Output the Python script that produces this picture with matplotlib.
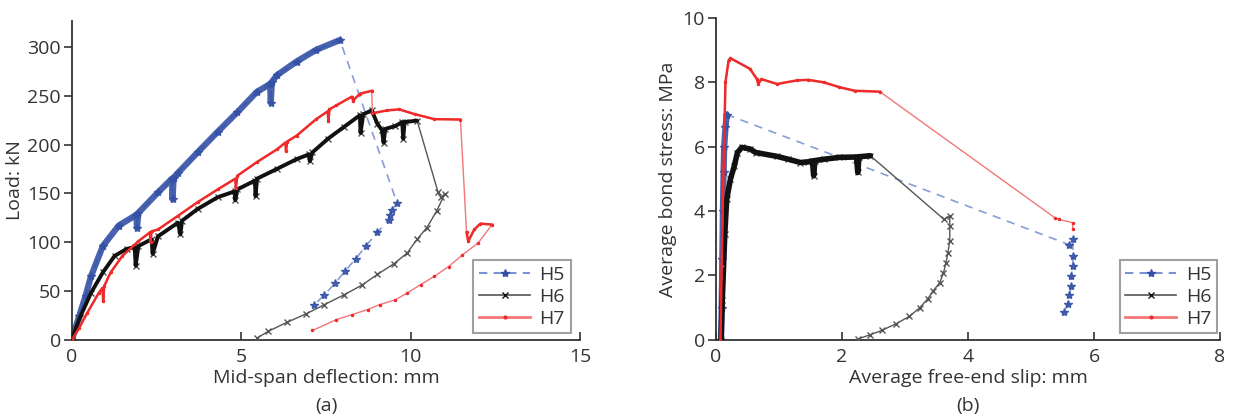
import matplotlib
matplotlib.use('Agg')
import matplotlib.pyplot as plt
from matplotlib.lines import Line2D

plt.rcParams['font.family'] = ['Open Sans', 'DejaVu Sans']
plt.rcParams['text.color'] = '#333333'
plt.rcParams['axes.labelcolor'] = '#333333'
plt.rcParams['xtick.color'] = '#333333'
plt.rcParams['ytick.color'] = '#333333'

# ---------------- (a) load vs mid-span deflection ----------------
# H5 loading branch (dense) and post-peak branch
h5a_load_x = [0.0, 0.1, 0.21, 0.4, 0.56, 0.91, 1.38, 1.9, 1.92, 1.96, 2.54, 2.95, 2.97, 3.0, 3.13,
              3.71, 4.3, 4.88, 5.46, 5.85, 5.87, 5.9, 6.05, 6.63, 7.21, 7.91]
h5a_load_y = [0.0, 12, 24, 45, 65, 96, 117, 128, 115, 130, 151, 165, 144, 166, 171,
              192, 213, 233, 254, 262, 243, 264, 271, 285, 297, 307]
h5a_post_x = [9.6, 9.45, 9.4, 9.35, 9.02, 8.67, 8.38, 8.05, 7.77, 7.45, 7.16]
h5a_post_y = [140, 133, 128, 123, 110, 96, 83, 70, 58, 46, 36]

h6a_load_x = [0.0, 0.21, 0.56, 0.91, 1.26, 1.61, 1.85, 1.88, 1.96, 2.35, 2.38, 2.54, 3.13, 3.2, 3.25,
              3.71, 4.3, 4.8, 4.82, 4.88, 5.4, 5.42, 5.46, 6.05, 6.63, 7.0, 7.02, 7.1, 7.56,
              8.03, 8.5, 8.52, 8.6, 8.85, 9.02, 9.15, 9.2, 9.25, 9.55, 9.75, 9.78, 9.82, 10.19]
h6a_load_y = [0.0, 21, 48, 69, 86, 93, 95, 76, 96, 103, 88, 106, 120, 108, 122,
              134, 146, 152, 143, 154, 163, 147, 165, 175, 185, 190, 183, 192, 206,
              218, 230, 212, 231, 235, 221, 215, 202, 216, 219, 223, 206, 223, 224.5]
h6a_post_x = [10.81, 10.9, 11.0, 10.77, 10.48, 10.19, 9.9, 9.51, 9.02, 8.56, 8.03, 7.45,
              6.92, 6.34, 5.79, 5.46]
h6a_post_y = [151, 146, 149, 132, 115, 103, 89, 78, 67, 56, 46, 36,
              26.7, 17.8, 8.6, 1.7]

h7a_load_x = [0.0, 0.21, 0.44, 0.79, 0.9, 0.92, 0.95, 1.14, 1.49, 1.96, 2.3, 2.32, 2.35, 2.54, 3.13,
              3.71, 4.3, 4.82, 4.84, 4.88, 5.46, 6.05, 6.3, 6.32, 6.35, 6.63, 7.21, 7.55, 7.57,
              7.6, 7.8, 8.26, 8.3, 8.5, 8.85, 8.87, 9.31, 9.66, 10.13, 10.7, 11.47, 11.65,
              11.7, 11.88, 12.06, 12.4]
h7a_load_y = [0.0, 12, 27, 48, 53, 40, 55, 69, 86, 101, 110, 100, 111, 113, 127,
              141, 154, 165, 155, 168, 182, 195, 202, 193, 203, 209, 226, 234, 224,
              236, 240, 249, 245, 252, 255, 232, 235, 236, 231, 226, 225.6, 110,
              101, 113, 119, 118]
h7a_post_x = [12.0, 11.53, 11.12, 10.7, 10.3, 9.9, 9.55, 9.08, 8.73, 8.26, 7.8, 7.1]
h7a_post_y = [99.4, 87, 75, 65, 56.6, 48, 41, 36, 31, 25.7, 20.6, 9.6]

# ---------------- (b) bond stress vs free-end slip ----------------
h5b_load_x = [0.08, 0.09, 0.1, 0.11, 0.12, 0.13, 0.15, 0.17]
h5b_load_y = [0.0, 1.0, 2.5, 4.0, 5.2, 6.0, 6.6, 7.0]
h5b_post_x = [5.6, 5.66, 5.67, 5.66, 5.64, 5.64, 5.61, 5.58, 5.53]
h5b_post_y = [2.96, 3.12, 2.6, 2.29, 1.98, 1.66, 1.4, 1.12, 0.86]

h6b_load_x = [0.08, 0.1, 0.14, 0.17, 0.23, 0.29, 0.34, 0.41, 0.54, 0.63, 0.97, 1.15, 1.34,
              1.46, 1.53, 1.55, 1.57, 1.71, 1.96, 2.23, 2.25, 2.27, 2.45]
h6b_load_y = [0.0, 1.25, 3.3, 4.37, 5.0, 5.4, 5.82, 5.98, 5.93, 5.82, 5.7, 5.61, 5.51,
              5.53, 5.56, 5.1, 5.57, 5.61, 5.67, 5.68, 5.2, 5.69, 5.72]
h6b_post_x = [3.62, 3.71, 3.71, 3.71, 3.68, 3.65, 3.61, 3.55, 3.45, 3.36, 3.23, 3.07, 2.86,
              2.63, 2.45, 2.26]
h6b_post_y = [3.74, 3.85, 3.53, 3.07, 2.7, 2.39, 2.08, 1.77, 1.53, 1.27, 0.99, 0.73, 0.5,
              0.29, 0.16, 0.03]

h7b_load_x = [0.07, 0.09, 0.12, 0.15, 0.2, 0.23, 0.54, 0.65, 0.67, 0.72, 0.97, 1.28, 1.46,
              1.71, 1.96, 2.2, 2.6]
h7b_load_y = [0.0, 2.3, 5.4, 8.0, 8.68, 8.75, 8.42, 8.1, 7.95, 8.1, 7.95, 8.06, 8.08,
              8.0, 7.85, 7.74, 7.71]
h7b_post_x = [5.38, 5.44, 5.66, 5.66]
h7b_post_y = [3.79, 3.74, 3.64, 3.45]

blue = '#3451a6'
blue_light = '#7b92d4'
black = '#111111'
gray = '#555555'
red = '#ee2a2a'
red_light = '#f27777'


def thick(ax, x, y, breaks, **kw):
    # draw the dense part as thick pieces, leaving the sudden drops thin
    start = 0
    for b in breaks + [len(x)]:
        ax.plot(x[start:b], y[start:b], **kw)
        start = b


def draw(ax, h5, h6, h7, red_breaks, b6_lw):
    (x5, y5, px5, py5), (x6, y6, px6, py6), (x7, y7, px7, py7) = h5, h6, h7
    ax.plot(x5 + px5, y5 + py5, color=blue_light, lw=1.2, ls=(0, (5, 4)), marker='*',
            markersize=6, markerfacecolor=blue, markeredgecolor=blue, alpha=0.9, zorder=2)
    ax.plot(x6 + px6, y6 + py6, color=gray, lw=1.0, marker='x', markersize=4.5,
            markeredgecolor=gray, zorder=3)
    ax.plot(x7 + px7, y7 + py7, color=red_light, lw=1.0, marker='.', markersize=3,
            markerfacecolor=red, markeredgecolor=red, zorder=4)
    ax.plot(x5, y5, color=blue, lw=4.5, alpha=0.9, solid_capstyle='round', zorder=2)
    ax.plot(x6, y6, color=black, lw=b6_lw, solid_capstyle='round', zorder=3)
    thick(ax, x7, y7, red_breaks, color=red, lw=1.8, zorder=4)


fig = plt.figure(figsize=(12.33, 4.19), dpi=100)
ax1 = fig.add_axes([0.0584, 0.189, 0.412, 0.762])
ax2 = fig.add_axes([0.5807, 0.189, 0.4088, 0.768])

draw(ax1, (h5a_load_x, h5a_load_y, h5a_post_x, h5a_post_y),
     (h6a_load_x, h6a_load_y, h6a_post_x, h6a_post_y),
     (h7a_load_x, h7a_load_y, h7a_post_x, h7a_post_y), [35, 41], 2.8)
draw(ax2, (h5b_load_x, h5b_load_y, h5b_post_x, h5b_post_y),
     (h6b_load_x, h6b_load_y, h6b_post_x, h6b_post_y),
     (h7b_load_x, h7b_load_y, h7b_post_x, h7b_post_y), [], 4.0)

ax1.set_xlim(0, 15)
ax1.set_ylim(0, 327)
ax1.set_xticks([0, 5, 10, 15])
ax1.set_yticks([0, 50, 100, 150, 200, 250, 300])
ax1.set_xlabel('Mid-span deflection: mm', fontsize=14, labelpad=2)
ax1.set_ylabel('Load: kN', fontsize=14, labelpad=2)

ax2.set_xlim(0, 8)
ax2.set_ylim(0, 10)
ax2.set_xticks([0, 2, 4, 6, 8])
ax2.set_yticks([0, 2, 4, 6, 8, 10])
ax2.set_xlabel('Average free-end slip: mm', fontsize=14, labelpad=2)
ax2.set_ylabel('Average bond stress: MPa', fontsize=14, labelpad=4)

handles = [Line2D([], [], color=blue_light, lw=1.5, ls=(0, (4, 3)), marker='*', markersize=6,
                  markerfacecolor=blue, markeredgecolor=blue),
           Line2D([], [], color=gray, lw=1.2, marker='x', markersize=4.5, markeredgecolor=black),
           Line2D([], [], color=red_light, lw=2.0, marker='.', markersize=4,
                  markerfacecolor=red, markeredgecolor=red)]

for ax, xa in ((ax1, 0.982), (ax2, 0.994)):
    ax.spines['top'].set_visible(False)
    ax.spines['right'].set_visible(False)
    ax.spines['left'].set_color('#333333')
    ax.spines['bottom'].set_color('#333333')
    ax.spines['left'].set_linewidth(1.3)
    ax.spines['bottom'].set_linewidth(1.3)
    ax.tick_params(axis='y', direction='out', length=6, width=1.2, labelsize=14, pad=2)
    ax.tick_params(axis='x', direction='in', length=6, width=1.2, labelsize=14, pad=6)
    leg = ax.legend(handles, ['H5', 'H6', 'H7'], loc='lower right', fontsize=14,
                    numpoints=1, fancybox=False, handlelength=2.6, handletextpad=0.5,
                    borderpad=0.3, labelspacing=0.2, borderaxespad=0,
                    bbox_to_anchor=(xa, 0.02))
    leg.get_frame().set_edgecolor('#888888')
    leg.get_frame().set_linewidth(1.5)

fig.text(0.2645, 0.01, '(a)', ha='center', va='bottom', fontsize=14)
fig.text(0.785, 0.01, '(b)', ha='center', va='bottom', fontsize=14)

fig.savefig('out.png', dpi=100)
